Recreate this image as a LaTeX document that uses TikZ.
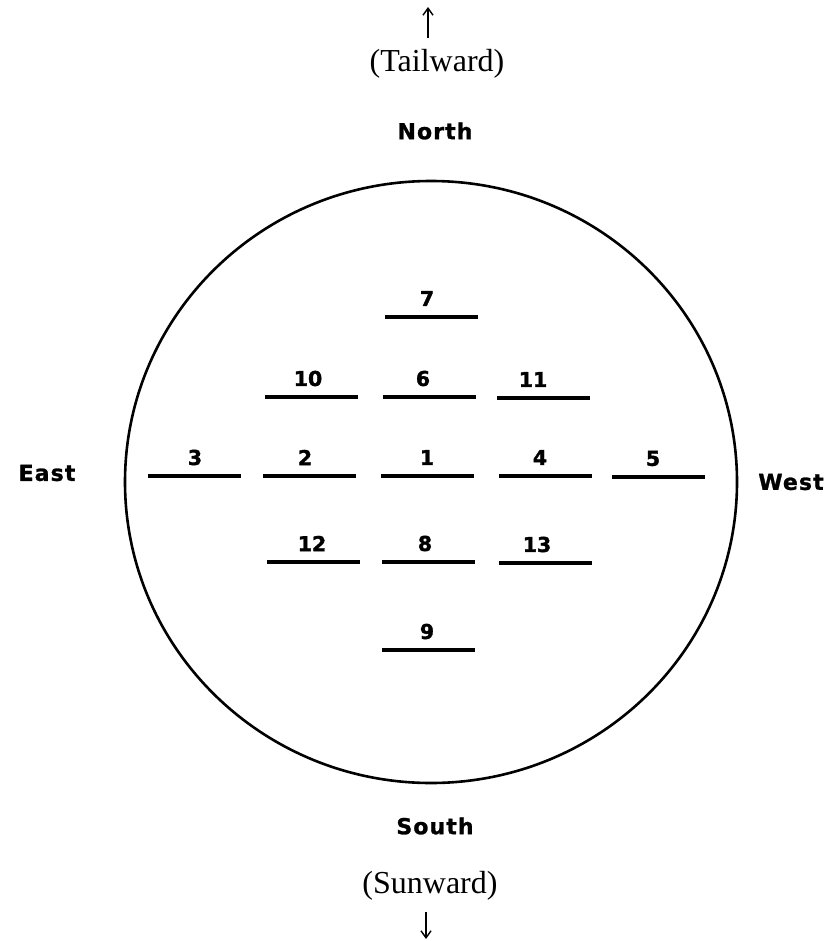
\documentclass[tikz,border=0pt]{standalone}
\usepackage{fontspec}
\usetikzlibrary{arrows.meta}
\newfontfamily\plotfont[LetterSpace=5,BoldFont={DejaVu Sans Bold},BoldFeatures={FakeBold=1.2}]{DejaVu Sans}
\newfontfamily\numfont[BoldFont={DejaVu Sans Bold},BoldFeatures={FakeBold=1.5}]{DejaVu Sans}
\newfontfamily\serf{Liberation Serif}
\begin{document}
\begin{tikzpicture}[x=1pt,y=-1pt,
  bar/.style={fill=black,draw=none,minimum width=93pt,minimum height=4.5pt,inner sep=0pt,outer sep=0pt},
  num/.style={font=\numfont\bfseries\fontsize{20.5}{22}\selectfont,inner sep=0pt},
  dir/.style={font=\plotfont\bfseries\fontsize{22}{24}\selectfont,inner sep=0pt},
  ward/.style={font=\serf\fontsize{32}{35}\selectfont,inner sep=0pt},
  arr/.style={line width=1.5pt,-{Straight Barb[length=7pt,width=10pt,line width=1.4pt]}}]
\useasboundingbox (0,0) rectangle (826,941);
\draw[line width=2.6pt] (431,482) ellipse [x radius=306, y radius=301];
\foreach \n/\x/\y/\lx in {7/431.5/317/427, 10/311.5/397/308, 6/429/397/423, 11/543.5/398/533,
  3/194/476/195, 2/309/476/305, 1/427.5/476/427, 4/545/476/540, 5/658/477/653,
  12/313.5/562/312, 8/428/562/425, 13/545.5/563/537, 9/428/650/427}{
  \node[bar] (b\n) at (\x,\y) {};
  \node[num] (t\n) at (\lx,\y-18.5) {\n};
}
\node[dir] (north) at (435,131) {North};
\node[dir] (south) at (435,826) {South};
\node[dir] (east) at (47,473) {East};
\node[dir] (west) at (791,482) {West};
\node[ward] (tail) at (437,64) {(Tailward)};
\node[ward] (sun) at (430,886) {(Sunward)};
\coordinate (up) at (428,7);
\coordinate (down) at (426,939);
\draw[arr] (tail.north -| up) ++(0,-11) coordinate (ustart) -- (up);
\draw[arr] (sun.south -| down) ++(0,11) coordinate (dstart) -- (down);
\end{tikzpicture}
\end{document}
